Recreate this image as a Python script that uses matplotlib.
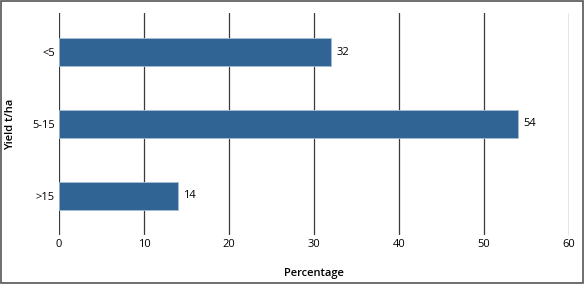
import matplotlib.pyplot as plt
from matplotlib.patches import Rectangle

plt.rcParams['font.family'] = ['Open Sans', 'DejaVu Sans']

categories = ['<5', '5-15', '>15']
values = [32, 54, 14]

fig = plt.figure(figsize=(5.84, 2.84), dpi=100)
ax = fig.add_axes([59/584, 1 - 235/284, 510/584, 222/284])

ax.barh(categories, values, height=0.39, color='#2f6494',
        edgecolor='#a9bdd3', linewidth=0.6, zorder=3)
for i, v in enumerate(values):
    ax.text(v + 0.6, i, str(v), va='center', ha='left', fontsize=8)

ax.set_xlim(0, 60)
ax.set_ylim(2.55, -0.55)
ax.set_xticks(range(0, 61, 10))
ax.grid(axis='x', color='#3a3a3a', linewidth=0.9, zorder=0)
ax.tick_params(length=0, labelsize=8, pad=3)
for s in ax.spines.values():
    s.set_visible(False)

ax.set_xlabel('Percentage', fontsize=8, fontweight='semibold')
ax.set_ylabel('Yield t/ha', fontsize=8, fontweight='semibold')
ax.xaxis.set_label_coords(0.5, -0.149)
ax.yaxis.set_label_coords(-0.084, 0.5)

fig.patches.append(Rectangle((0.001, 0.002), 0.997, 0.995, transform=fig.transFigure,
                             fill=False, edgecolor='#555555', linewidth=1.2))

fig.savefig('out.png', dpi=100)
